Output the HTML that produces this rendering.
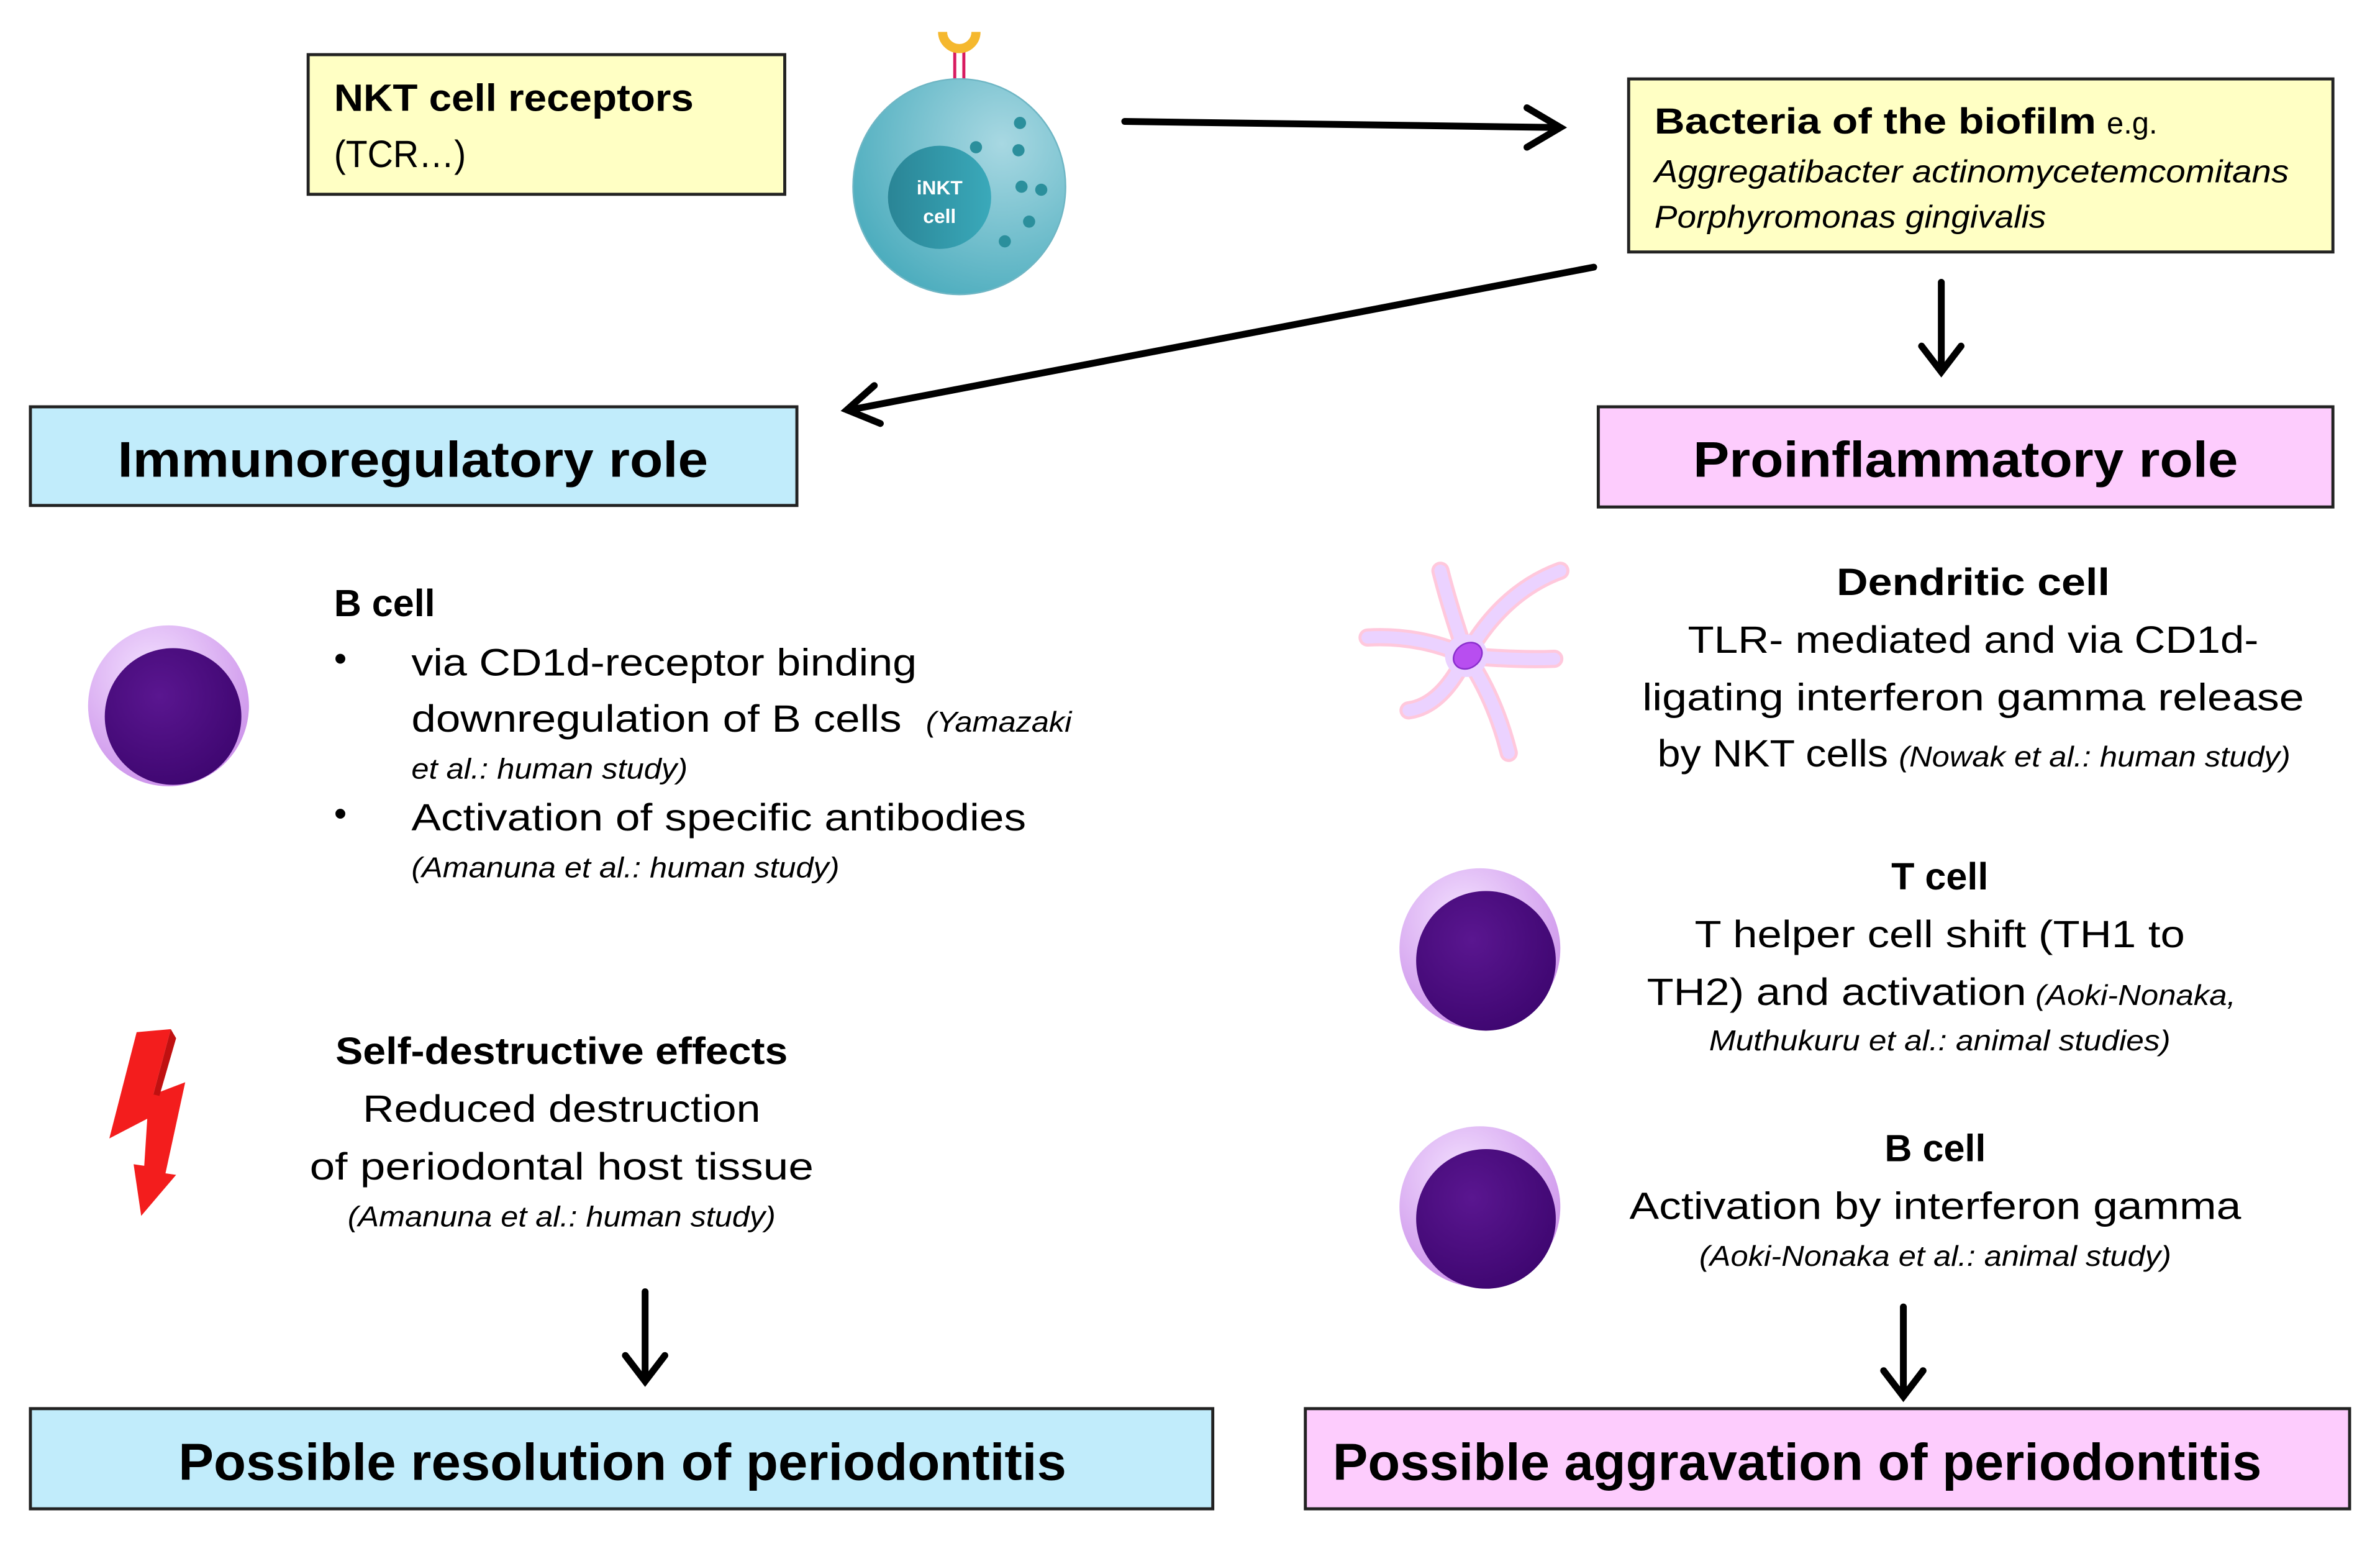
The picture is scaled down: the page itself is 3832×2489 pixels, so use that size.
<!DOCTYPE html>
<html><head><meta charset="utf-8"><style>
html,body{margin:0;padding:0;background:#fff;}
svg{display:block;}
text{font-family:"Liberation Sans",Arial,sans-serif;fill:#000;}
.b{font-weight:bold;}
.i{font-style:italic;}
</style></head><body>
<svg width="3832" height="2489" viewBox="0 0 1568 1018.5" xmlns="http://www.w3.org/2000/svg">
<defs>
<radialGradient id="cellg" cx="0.7" cy="0.3" r="0.9">
<stop offset="0" stop-color="#a8d8e2"/><stop offset="1" stop-color="#3ea6b8"/></radialGradient>
<linearGradient id="nucg" x1="0" x2="1"><stop offset="0" stop-color="#2a8596"/><stop offset="1" stop-color="#3aa9ba"/></linearGradient>
<radialGradient id="bg" cx="0.4" cy="0.3" r="0.8"><stop offset="0" stop-color="#f3e0ff"/><stop offset="1" stop-color="#c88ae8"/></radialGradient>
<radialGradient id="bn" cx="0.4" cy="0.35" r="0.7"><stop offset="0" stop-color="#5a1690"/><stop offset="1" stop-color="#3e0670"/></radialGradient>
</defs>

<!-- NKT box -->
<rect x="203" y="36" width="314" height="92" fill="#ffffc4" stroke="#222" stroke-width="2"/>
<text x="220" y="73" class="b" font-size="25" textLength="237" lengthAdjust="spacingAndGlyphs">NKT cell receptors</text>
<text x="220" y="110" font-size="25" textLength="87" lengthAdjust="spacingAndGlyphs">(TCR…)</text>

<!-- iNKT cell -->
<line x1="629" y1="57" x2="629" y2="34" stroke="#d81b60" stroke-width="2"/>
<line x1="635" y1="57" x2="635" y2="34" stroke="#d81b60" stroke-width="2"/>
<path d="M621,21 A11,11 0 0 0 643,21" fill="none" stroke="#f5b82e" stroke-width="6"/>
<ellipse cx="632" cy="123" rx="70" ry="71" fill="url(#cellg)" stroke="#6fb6c4" stroke-width="1"/>
<circle cx="619" cy="130" r="34" fill="url(#nucg)"/>
<text x="619" y="128" font-size="13" class="b" text-anchor="middle" style="fill:#fff">iNKT</text>
<text x="619" y="147" font-size="13" class="b" text-anchor="middle" style="fill:#fff">cell</text>
<g fill="#2b8f9c"><circle cx="672" cy="81" r="4"/><circle cx="643" cy="97" r="4"/><circle cx="671" cy="99" r="4"/><circle cx="673" cy="123" r="4"/><circle cx="686" cy="125" r="4"/><circle cx="678" cy="146" r="4"/><circle cx="662" cy="159" r="4"/></g>

<!-- arrows -->
<g stroke="#000" stroke-width="4.5" fill="none" stroke-linecap="round">
<line x1="741" y1="80" x2="1026" y2="84"/>
<polyline points="1006,71 1028,84 1006,97"/>
<line x1="1050" y1="176" x2="560" y2="270"/>
<polyline points="576,254 558,270 580,279"/>
<line x1="1279" y1="186" x2="1279" y2="243"/>
<polyline points="1266,228 1279,245 1292,228"/>
<line x1="425" y1="851" x2="425" y2="908"/>
<polyline points="412,893 425,910 438,893"/>
<line x1="1254" y1="861" x2="1254" y2="918"/>
<polyline points="1241,903 1254,920 1267,903"/>
</g>

<!-- bacteria box -->
<rect x="1073" y="52" width="464" height="114" fill="#ffffc4" stroke="#222" stroke-width="2"/>
<text x="1090" y="88" class="b" font-size="24" textLength="291" lengthAdjust="spacingAndGlyphs">Bacteria of the biofilm</text>
<text x="1388" y="88" font-size="20">e.g.</text>
<text x="1090" y="120" class="i" font-size="21" textLength="418" lengthAdjust="spacingAndGlyphs">Aggregatibacter actinomycetemcomitans</text>
<text x="1090" y="150" class="i" font-size="21" textLength="258" lengthAdjust="spacingAndGlyphs">Porphyromonas gingivalis</text>

<!-- role boxes -->
<rect x="20" y="268" width="505" height="65" fill="#c1ecfb" stroke="#222" stroke-width="2"/>
<text x="272" y="314" class="b" font-size="33" text-anchor="middle" textLength="389" lengthAdjust="spacingAndGlyphs">Immunoregulatory role</text>
<rect x="1053" y="268" width="484" height="66" fill="#fdccfd" stroke="#222" stroke-width="2"/>
<text x="1295" y="314" class="b" font-size="33" text-anchor="middle" textLength="359" lengthAdjust="spacingAndGlyphs">Proinflammatory role</text>

<!-- left B cell -->
<circle cx="111" cy="465" r="53" fill="url(#bg)"/>
<circle cx="114" cy="472" r="45" fill="url(#bn)"/>
<text x="220" y="406" class="b" font-size="25">B cell</text>
<text x="220" y="442" font-size="24">•</text>
<text x="271" y="445" font-size="25" textLength="333" lengthAdjust="spacingAndGlyphs">via CD1d-receptor binding</text>
<text x="271" y="482" font-size="25" textLength="323" lengthAdjust="spacingAndGlyphs">downregulation of B cells</text>
<text x="610" y="482" class="i" font-size="19" textLength="96" lengthAdjust="spacingAndGlyphs">(Yamazaki</text>
<text x="271" y="513" class="i" font-size="19" textLength="182" lengthAdjust="spacingAndGlyphs">et al.: human study)</text>
<text x="220" y="544" font-size="24">•</text>
<text x="271" y="547" font-size="25" textLength="405" lengthAdjust="spacingAndGlyphs">Activation of specific antibodies</text>
<text x="271" y="578" class="i" font-size="19" textLength="282" lengthAdjust="spacingAndGlyphs">(Amanuna et al.: human study)</text>

<!-- lightning -->
<polygon points="90,680 112.5,678 101,721 122,713 109,773 116,774 93,801 88,767 95,768 97,737 72,750" fill="#f31d1d"/>
<polygon points="112.5,678 116,684 105,722 101,721" fill="#c01010"/>

<text x="370" y="701" class="b" font-size="25" text-anchor="middle" textLength="298" lengthAdjust="spacingAndGlyphs">Self-destructive effects</text>
<text x="370" y="739" font-size="25" text-anchor="middle" textLength="262" lengthAdjust="spacingAndGlyphs">Reduced destruction</text>
<text x="370" y="777" font-size="25" text-anchor="middle" textLength="332" lengthAdjust="spacingAndGlyphs">of  periodontal host tissue</text>
<text x="370" y="808" class="i" font-size="19" text-anchor="middle" textLength="282" lengthAdjust="spacingAndGlyphs">(Amanuna et al.: human study)</text>

<!-- dendritic cell -->
<g stroke="#ffc8dc" stroke-width="12" stroke-linecap="round" fill="none">
<path d="M966,432 Q955,400 949,376"/><path d="M966,432 Q990,390 1028,376"/><path d="M966,432 Q1000,435 1024,434"/><path d="M966,432 Q985,460 994,496"/><path d="M966,432 Q950,465 928,468"/><path d="M966,432 Q935,418 901,420"/>
</g>
<g stroke="#ebd2ff" stroke-width="8" stroke-linecap="round" fill="none">
<path d="M966,432 Q955,400 949,376"/><path d="M966,432 Q990,390 1028,376"/><path d="M966,432 Q1000,435 1024,434"/><path d="M966,432 Q985,460 994,496"/><path d="M966,432 Q950,465 928,468"/><path d="M966,432 Q935,418 901,420"/>
</g>
<circle cx="966" cy="432" r="14" fill="#ebd2ff"/>
<ellipse cx="967" cy="432" rx="10" ry="8" transform="rotate(-35 967 432)" fill="#b84ef0" stroke="#8a2fcc" stroke-width="1"/>

<text x="1300" y="392" class="b" font-size="25" text-anchor="middle" textLength="180" lengthAdjust="spacingAndGlyphs">Dendritic  cell</text>
<text x="1300" y="430" font-size="25" text-anchor="middle" textLength="376" lengthAdjust="spacingAndGlyphs">TLR- mediated  and via CD1d-</text>
<text x="1300" y="468" font-size="25" text-anchor="middle" textLength="436" lengthAdjust="spacingAndGlyphs">ligating  interferon gamma release</text>
<text x="1092" y="505" font-size="25" textLength="152" lengthAdjust="spacingAndGlyphs">by NKT cells</text>
<text x="1251" y="505" class="i" font-size="19" textLength="258" lengthAdjust="spacingAndGlyphs">(Nowak et al.: human study)</text>

<!-- T cell -->
<circle cx="975" cy="625" r="53" fill="url(#bg)"/>
<circle cx="979" cy="633" r="46" fill="url(#bn)"/>
<text x="1278" y="586" class="b" font-size="25" text-anchor="middle">T cell</text>
<text x="1278" y="624" font-size="25" text-anchor="middle" textLength="323" lengthAdjust="spacingAndGlyphs">T helper cell shift (TH1 to</text>
<text x="1085" y="662" font-size="25" textLength="250" lengthAdjust="spacingAndGlyphs">TH2) and activation</text>
<text x="1341" y="662" class="i" font-size="19" textLength="132" lengthAdjust="spacingAndGlyphs">(Aoki-Nonaka,</text>
<text x="1278" y="692" class="i" font-size="19" text-anchor="middle" textLength="304" lengthAdjust="spacingAndGlyphs">Muthukuru et al.: animal studies)</text>

<!-- B cell right -->
<circle cx="975" cy="795" r="53" fill="url(#bg)"/>
<circle cx="979" cy="803" r="46" fill="url(#bn)"/>
<text x="1275" y="765" class="b" font-size="25" text-anchor="middle">B cell</text>
<text x="1275" y="803" font-size="25" text-anchor="middle" textLength="403" lengthAdjust="spacingAndGlyphs">Activation by interferon gamma</text>
<text x="1275" y="834" class="i" font-size="19" text-anchor="middle" textLength="311" lengthAdjust="spacingAndGlyphs">(Aoki-Nonaka et al.: animal study)</text>

<!-- bottom boxes -->
<rect x="20" y="928" width="779" height="66" fill="#c1ecfb" stroke="#222" stroke-width="2"/>
<text x="410" y="975" class="b" font-size="34" text-anchor="middle" textLength="585" lengthAdjust="spacingAndGlyphs">Possible resolution of periodontitis</text>
<rect x="860" y="928" width="688" height="66" fill="#fdccfd" stroke="#222" stroke-width="2"/>
<text x="1184" y="975" class="b" font-size="34" text-anchor="middle" textLength="612" lengthAdjust="spacingAndGlyphs">Possible aggravation of periodontitis</text>
</svg>
</body></html>
